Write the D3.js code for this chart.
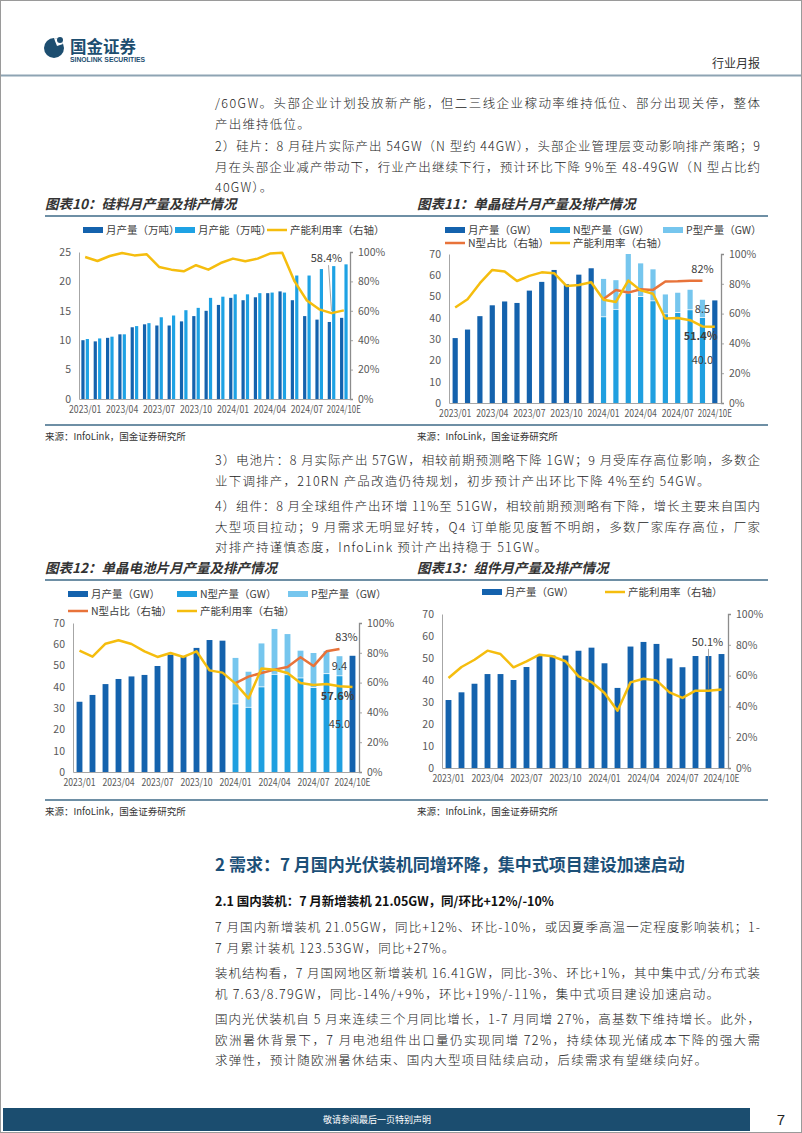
<!DOCTYPE html>
<html><head><meta charset="utf-8">
<script src="https://cdn.jsdelivr.net/npm/d3@7"></script>
<style>body{margin:0;background:#fff}svg{display:block}</style>
</head><body>
<svg id="page" width="802" height="1133"></svg>
<script>
// ---------------- DATA ----------------
const months = ["2023/01","2023/02","2023/03","2023/04","2023/05","2023/06","2023/07","2023/08","2023/09","2023/10","2023/11","2023/12",
  "2024/01","2024/02","2024/03","2024/04","2024/05","2024/06","2024/07","2024/08","2024/09","2024/10E"];
const tickLabels = ["2023/01","2023/04","2023/07","2023/10","2024/01","2024/04","2024/07","2024/10E"];
const pctTicks = [0,20,40,60,80,100];

// 图表10 硅料
const siliconOutput   = [10.0,9.8,10.4,11.0,12.2,12.7,12.5,12.5,13.2,14.1,15.0,16.0,17.2,16.8,17.3,18.0,18.3,16.8,14.1,13.5,13.1,13.8];
const siliconCapacity = [10.2,10.3,10.6,11.0,12.4,12.9,13.9,14.2,15.1,15.5,17.2,17.4,17.8,17.8,18.0,18.1,18.1,21.0,21.0,22.1,22.6,22.9];
const siliconUtil     = [96.6,93.9,97.3,99.3,97.7,98.4,89.8,88.0,86.9,91.0,88.0,92.5,95.5,93.7,95.5,98.9,99.5,80.0,67.0,61.0,58.4,60.3];

// 图表11 硅片
const waferTotal = [30.5,34.5,40.8,45.9,47.7,47.0,52.8,56.9,62.5,55.8,60.3,63.3,null,null,null,null,null,null,null,null,null,48.2];
const waferN     = [null,null,null,null,null,null,null,null,null,null,null,null,40.3,43.8,51.5,49.8,47.8,41.7,42.3,43.6,40.0,null];
const waferP     = [null,null,null,null,null,null,null,null,null,null,null,null,18.0,13.9,18.5,15.8,15.0,9.3,9.5,9.6,8.5,null];
const waferNShare= [null,null,null,null,null,null,null,null,null,null,null,null,69.8,75.9,74.1,76.3,75.9,81.5,81.7,82.1,82.1,null];
const waferUtil  = [64.1,69.6,80.4,89.3,88.2,81.9,85.3,87.7,87.1,78.6,79.2,81.0,69.3,67.8,82.2,75.6,73.3,56.7,57.1,55.6,51.4,51.1];

// 图表12 电池片
const cellTotal  = [33.0,36.2,41.3,43.7,44.9,45.6,49.8,55.1,54.4,58.3,62.0,61.7,null,null,null,null,null,null,null,null,null,54.6];
const cellN      = [null,null,null,null,null,null,null,null,null,null,null,null,31.8,30.2,39.8,45.7,45.5,44.0,39.5,46.0,45.0,null];
const cellP      = [null,null,null,null,null,null,null,null,null,null,null,null,21.8,16.9,20.6,21.5,19.3,13.0,16.4,10.8,9.4,null];
const cellNShare = [null,null,null,null,null,null,null,null,null,null,null,null,59.7,64.0,66.4,68.7,70.5,77.0,71.1,81.0,82.6,null];
const cellUtil   = [81.4,77.4,86.1,88.4,85.9,81.0,77.2,79.9,77.2,81.0,68.2,66.7,59.3,49.4,69.4,68.7,66.4,59.7,58.4,59.1,57.6,57.0];

// 图表13 组件
const moduleOutput = [30.9,34.4,38.3,42.7,42.7,40.0,45.9,51.1,51.1,51.1,53.3,54.7,47.6,36.4,55.2,57.3,56.4,49.8,45.8,50.9,50.9,51.8];
const moduleUtil   = [58.4,65.6,70.3,76.2,74.0,65.4,69.3,73.6,72.5,69.3,59.5,55.8,48.7,37.2,55.6,58.0,56.9,49.1,45.5,50.2,50.1,50.9];

// ---------------- STYLE ----------------
const FONT = '"Noto Sans CJK SC","Noto Sans",sans-serif';
const C = {dark:"#1462ad", n:"#1f9fe0", p:"#76c6ee", cap:"#1ea2e4", yellow:"#f5bd0e", orange:"#e8733a",
           axis:"#a6a6a6", tick:"#595959", text:"#222", rule:"#6e8fa5", navy:"#1d4e70"};

const svg = d3.select("#page");
svg.append("rect").attr("x",0.5).attr("y",0.5).attr("width",801).attr("height",1132).attr("fill","#fff").attr("stroke","#9a9a9a");

// ---------------- HEADER ----------------
const hdr = svg.append("g");
hdr.append("circle").attr("cx",54).attr("cy",48).attr("r",10).attr("fill",C.navy);
hdr.append("path").attr("d","M54,38 A10,10 0 0 1 63,44 L57,46 L55,41 Z").attr("fill","#fff");
hdr.append("circle").attr("cx",60).attr("cy",40).attr("r",3).attr("fill",C.navy);
hdr.append("text").attr("x",70).attr("y",53).text("国金证券").attr("font-family",FONT).attr("font-weight",700).attr("font-size",16.5).attr("fill",C.navy);
hdr.append("text").attr("x",70).attr("y",62).text("SINOLINK SECURITIES").attr("font-family",'"Liberation Sans",Arial,sans-serif').attr("font-weight",700).attr("font-size",6.8).attr("fill",C.navy);
hdr.append("text").attr("x",760).attr("y",68).attr("text-anchor","end").text("行业月报").attr("font-family",FONT).attr("font-size",12).attr("fill","#333");
hdr.append("line").attr("x1",1).attr("x2",801).attr("y1",75.5).attr("y2",75.5).attr("stroke","#8ea4b3").attr("stroke-width",2);

// ---------------- BODY TEXT ----------------
function para(lines, y0, lh){
  lines.forEach((ln,i)=>{
    const t = svg.append("text").attr("x",215).attr("y",y0+i*lh).text(ln.t)
      .attr("font-family",FONT).attr("font-size",12.5).attr("font-weight",300).attr("fill",C.text);
    if(ln.full) t.attr("textLength",545).attr("lengthAdjust","spacing");
    else t.attr("letter-spacing",1.2);
  });
}
const LH = 20.5;
para([{t:"/60GW。头部企业计划投放新产能，但二三线企业稼动率维持低位、部分出现关停，整体",full:true},{t:"产出维持低位。"}],108,LH);
para([{t:"2）硅片：8 月硅片实际产出 54GW（N 型约 44GW），头部企业管理层变动影响排产策略；9",full:true},
      {t:"月在头部企业减产带动下，行业产出继续下行，预计环比下降 9%至 48-49GW（N 型占比约",full:true},{t:"40GW）。"}],151,LH);
para([{t:"3）电池片：8 月实际产出 57GW，相较前期预测略下降 1GW；9 月受库存高位影响，多数企",full:true},
      {t:"业下调排产，210RN 产品改造仍待规划，初步预计产出环比下降 4%至约 54GW。"}],465,LH);
para([{t:"4）组件：8 月全球组件产出环增 11%至 51GW，相较前期预测略有下降，增长主要来自国内",full:true},
      {t:"大型项目拉动；9 月需求无明显好转，Q4 订单能见度暂不明朗，多数厂家库存高位，厂家",full:true},
      {t:"对排产持谨慎态度，InfoLink 预计产出持稳于 51GW。"}],511,LH);

svg.append("text").attr("x",215).attr("y",871).text("2 需求：7 月国内光伏装机同增环降，集中式项目建设加速启动")
  .attr("font-family",FONT).attr("font-weight",700).attr("font-size",17).attr("fill","#1c5078");
svg.append("text").attr("x",215).attr("y",906).text("2.1 国内装机：7 月新增装机 21.05GW，同/环比+12%/-10%")
  .attr("font-family",FONT).attr("font-weight",700).attr("font-size",12.5).attr("fill","#111");
para([{t:"7 月国内新增装机 21.05GW，同比+12%、环比-10%，或因夏季高温一定程度影响装机；1-",full:true},{t:"7 月累计装机 123.53GW，同比+27%。"}],932,LH);
para([{t:"装机结构看，7 月国网地区新增装机 16.41GW，同比-3%、环比+1%，其中集中式/分布式装",full:true},
      {t:"机 7.63/8.79GW，同比-14%/+9%，环比+19%/-11%，集中式项目建设加速启动。"}],978,LH);
para([{t:"国内光伏装机自 5 月来连续三个月同比增长，1-7 月同增 27%，高基数下维持增长。此外，",full:true},
      {t:"欧洲暑休背景下，7 月电池组件出口量仍实现同增 72%，持续体现光储成本下降的强大需",full:true},
      {t:"求弹性，预计随欧洲暑休结束、国内大型项目陆续启动，后续需求有望继续向好。"}],1024,LH);

// chart titles / rules / sources
function rule(y){ svg.append("line").attr("x1",45).attr("x2",768).attr("y1",y).attr("y2",y).attr("stroke",C.rule).attr("stroke-width",2); }
function title(x,y,t){ svg.append("text").attr("x",x).attr("y",y).text(t).attr("font-family",FONT).attr("font-weight",700)
   .attr("font-style","italic").attr("font-size",13.5).attr("fill","#333"); }
function source(x,y){ svg.append("text").attr("x",x).attr("y",y).text("来源：InfoLink，国金证券研究所").attr("font-family",FONT).attr("font-size",9.5).attr("fill","#333"); }
title(45,209,"图表10：硅料月产量及排产情况"); title(417,209,"图表11：单晶硅片月产量及排产情况");
rule(216); rule(425); source(45,440); source(417,440);
title(45,573,"图表12：单晶电池片月产量及排产情况"); title(417,573,"图表13：组件月产量及排产情况");
rule(580); rule(800); source(45,815); source(417,815);

// footer
svg.append("rect").attr("x",3).attr("y",1108).attr("width",747).attr("height",23).attr("fill","#1b4d6f");
svg.append("text").attr("x",377).attr("y",1123).attr("text-anchor","middle").text("敬请参阅最后一页特别声明")
  .attr("font-family",FONT).attr("font-size",9).attr("fill","#fff");
svg.append("text").attr("x",781).attr("y",1125).attr("text-anchor","middle").text("7")
  .attr("font-family",'"Liberation Sans",sans-serif').attr("font-size",15).attr("fill","#222");

// ---------------- CHARTS ----------------
function legend(g, items){
  items.forEach(it=>{
    if(it.type==="bar") g.append("rect").attr("x",it.x).attr("y",it.y-3).attr("width",20).attr("height",6).attr("fill",it.color);
    else g.append("line").attr("x1",it.x).attr("x2",it.x+20).attr("y1",it.y).attr("y2",it.y).attr("stroke",it.color).attr("stroke-width",2.5);
    g.append("text").attr("x",it.x+23).attr("y",it.y+4).text(it.label).attr("font-family",FONT).attr("font-size",10.5).attr("fill","#404040");
  });
}

function frame(cfg){
  const g = svg.append("g");
  const x = d3.scaleBand().domain(months).range([cfg.x0,cfg.x1]);
  const yL = d3.scaleLinear().domain([0,cfg.yMax]).range([cfg.y1,cfg.y0]);
  const yR = d3.scaleLinear().domain([0,100]).range([cfg.y1,cfg.y0]);
  const ax = g.append("g").attr("transform",`translate(${cfg.x0},0)`)
    .call(d3.axisLeft(yL).tickValues(d3.range(0,cfg.yMax+1,cfg.step)).tickSize(0).tickPadding(cfg.padL||8));
  const ar = g.append("g").attr("transform",`translate(${cfg.x1},0)`)
    .call(d3.axisRight(yR).tickValues(pctTicks).tickFormat(d=>d+"%").tickSize(3).tickPadding(5));
  const ab = g.append("g").attr("transform",`translate(0,${cfg.y1})`)
    .call(d3.axisBottom(x).tickValues(tickLabels).tickSize(0).tickPadding(7));
  [ax,ar,ab].forEach(a=>{
    a.selectAll("text").attr("font-family",FONT).attr("font-size",10.5).attr("fill",C.tick);
    a.select(".domain").attr("stroke",C.axis);
    a.selectAll(".tick line").attr("stroke",C.axis);
  });
  // compress month labels so neighbours don't collide (narrow font in reference)
  const step = x.step()*3;
  ab.selectAll("text").attr("font-size",10).each(function(d){
    const n = String(d).length;
    d3.select(this).attr("textLength",Math.min(step-3, n*4.6)).attr("lengthAdjust","spacingAndGlyphs");
  });
  ar.select(".domain").attr("stroke","#8c8c8c").attr("stroke-width",1.3);
  g.selectAll(".domain").raise();
  return {g,x,yL,yR,ab};
}

function linePath(g, x, y, data, color){
  const ln = d3.line().defined(d=>d!=null).x((d,i)=>x(months[i])+x.bandwidth()/2).y(d=>y(d)).curve(d3.curveLinear);
  g.append("path").datum(data).attr("d",ln).attr("fill","none").attr("stroke",color).attr("stroke-width",2.5).attr("stroke-linejoin","round");
}
function label(g, xp, yp, t, bold){
  g.append("text").attr("x",xp).attr("y",yp).attr("text-anchor","middle").text(t)
   .attr("font-family",FONT).attr("font-size",11).attr("font-weight",bold?700:400).attr("fill","#404040");
}

// ---- 图表10
(function(){
  const cfg={x0:79,x1:350,y0:252,y1:399,yMax:25,step:5};
  const {g,x,yL,yR} = frame(cfg);
  const bw = x.bandwidth(), w = 3.2;
  const bars = g.insert("g",":first-child");
  bars.selectAll(".o").data(siliconOutput).join("rect").attr("x",(d,i)=>x(months[i])+bw/2-w-0.6).attr("width",w)
    .attr("y",d=>yL(d)).attr("height",d=>yL(0)-yL(d)).attr("fill",C.dark);
  bars.selectAll(".c").data(siliconCapacity).join("rect").attr("x",(d,i)=>x(months[i])+bw/2+0.6).attr("width",w)
    .attr("y",d=>yL(d)).attr("height",d=>yL(0)-yL(d)).attr("fill",C.cap);
  linePath(g,x,yR,siliconUtil,C.yellow);
  const i=20, px=x(months[i])+bw/2, py=yR(siliconUtil[i]);
  g.append("line").attr("x1",px-3).attr("y1",yR(siliconUtil[i])-48).attr("x2",px).attr("y2",py-2).attr("stroke","#8c8c8c").attr("stroke-width",0.8);
  label(g,px-5,py-51,siliconUtil[i].toFixed(1)+"%");
  legend(g,[{type:"bar",x:83,y:230,color:C.dark,label:"月产量（万吨）"},{type:"bar",x:175,y:230,color:C.cap,label:"月产能（万吨）"},
            {type:"line",x:267,y:230,color:C.yellow,label:"产能利用率（右轴）"}]);
})();

// stacked chart helper
function stacked(cfg, total, nArr, pArr, share, util, leg, labs){
  const {g,x,yL,yR} = frame(cfg);
  const bw = x.bandwidth(), w = bw*cfg.bar;
  const bars = g.insert("g",":first-child");
  const xb = i => x(months[i])+(bw-w)/2;
  bars.selectAll(".t").data(total.map((v,i)=>({v,i})).filter(d=>d.v!=null)).join("rect")
    .attr("x",d=>xb(d.i)).attr("width",w).attr("y",d=>yL(d.v)).attr("height",d=>yL(0)-yL(d.v)).attr("fill",C.dark);
  const st = nArr.map((v,i)=>({n:v,p:pArr[i],i})).filter(d=>d.n!=null);
  bars.selectAll(".n").data(st).join("rect").attr("x",d=>xb(d.i)).attr("width",w)
    .attr("y",d=>yL(d.n)).attr("height",d=>yL(0)-yL(d.n)).attr("fill",C.n);
  bars.selectAll(".p").data(st).join("rect").attr("x",d=>xb(d.i)).attr("width",w)
    .attr("y",d=>yL(d.n+d.p)).attr("height",d=>yL(d.n)-yL(d.n+d.p)-0.8).attr("fill",C.p);
  linePath(g,x,yR,share,C.orange);
  linePath(g,x,yR,util,C.yellow);
  legend(g,leg);
  const i=20, cx=x(months[i])+bw/2;
  label(g,cx+labs.dx,yR(share[i])-8,Math.round(share[i])+"%");
  label(g,cx,(yL(nArr[i]+pArr[i])+yL(nArr[i]))/2+4,pArr[i].toFixed(1));
  label(g,cx-2,yR(util[i])+14,util[i].toFixed(1)+"%",true);
  label(g,cx,(yL(0)+yL(nArr[i]))/2+4,nArr[i].toFixed(1));
}

stacked({x0:449,x1:721,y0:254,y1:403,yMax:70,step:10,bar:0.42}, waferTotal, waferN, waferP, waferNShare, waferUtil,
  [{type:"bar",x:445,y:230,color:C.dark,label:"月产量（GW）"},{type:"bar",x:550,y:230,color:C.n,label:"N型产量（GW）"},
   {type:"bar",x:663,y:230,color:C.p,label:"P型产量（GW）"},{type:"line",x:445,y:243,color:C.orange,label:"N型占比（右轴）"},
   {type:"line",x:550,y:243,color:C.yellow,label:"产能利用率（右轴）"}],{dx:0});

stacked({x0:73,x1:359,y0:623,y1:772,yMax:70,step:10,bar:0.45}, cellTotal, cellN, cellP, cellNShare, cellUtil,
  [{type:"bar",x:68,y:594,color:C.dark,label:"月产量（GW）"},{type:"bar",x:177,y:594,color:C.n,label:"N型产量（GW）"},
   {type:"bar",x:288,y:594,color:C.p,label:"P型产量（GW）"},{type:"line",x:68,y:611,color:C.orange,label:"N型占比（右轴）"},
   {type:"line",x:177,y:611,color:C.yellow,label:"产能利用率（右轴）"}],{dx:7});

// ---- 图表13
(function(){
  const cfg={x0:442,x1:728,y0:614,y1:768,yMax:70,step:10};
  const {g,x,yL,yR} = frame(cfg);
  const bw = x.bandwidth(), w = bw*0.45;
  const bars = g.insert("g",":first-child");
  bars.selectAll("rect").data(moduleOutput).join("rect").attr("x",(d,i)=>x(months[i])+(bw-w)/2).attr("width",w)
    .attr("y",d=>yL(d)).attr("height",d=>yL(0)-yL(d)).attr("fill",C.dark);
  linePath(g,x,yR,moduleUtil,C.yellow);
  const i=20, px=x(months[i])+bw/2, py=yR(moduleUtil[i]);
  g.append("line").attr("x1",px).attr("y1",py-42).attr("x2",px).attr("y2",py-2).attr("stroke","#8c8c8c").attr("stroke-width",0.8);
  label(g,px-1,py-45,moduleUtil[i].toFixed(1)+"%");
  legend(g,[{type:"bar",x:482,y:592,color:C.dark,label:"月产量（GW）"},{type:"line",x:605,y:592,color:C.yellow,label:"产能利用率（右轴）"}]);
})();
</script>
</body></html>
